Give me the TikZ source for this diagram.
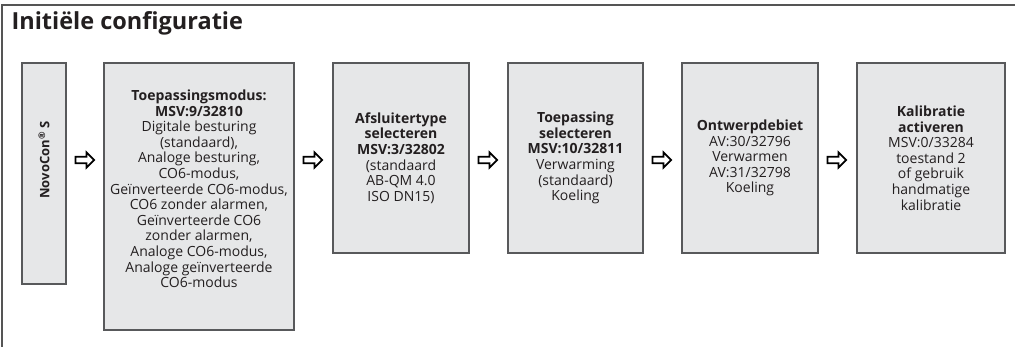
\documentclass[tikz,border=0pt]{standalone}
\usepackage{fontspec}
\setmainfont{Open Sans}
\usetikzlibrary{calc}
\definecolor{boxfill}{HTML}{E6E7E8}
\definecolor{boxline}{HTML}{58595B}
\definecolor{txt}{HTML}{231F20}
\definecolor{framecol}{HTML}{555555}
\newcommand\flowarrow[2]{\draw[flowarr] ($(#1.east|-row)+(9,0)$) -- ++(0,-3.2) -- ++(11,0) -- ++(0,-4.3) -- ++(7.5,7.5) -- ++(-7.5,7.5) -- ++(0,-4.3) -- ++(-11,0) -- cycle;}
\begin{document}
\begin{tikzpicture}[x=1pt,y=-1pt,
  box/.style={draw=boxline, fill=boxfill, line width=1.1pt, inner sep=0pt, align=center,
    font=\fontsize{14}{15.6}\selectfont, text=txt},
  flowarr/.style={draw=black, fill=white, line width=1.8pt, line join=miter},
  framel/.style={draw=framecol, line width=1.4pt}]
\useasboundingbox (0,0) rectangle (1015,347);
\draw[framel] (2,347) -- (2,5) -- (1015,5);
\node[anchor=base west, font=\bfseries\fontsize{23.5}{27}\selectfont, text=txt] (title) at (8,29.5) {Initiële configuratie};
\coordinate (row) at (0,160);
\node[box, minimum width=44pt, minimum height=221pt] (b0) at (44,173.5) {};
\node[rotate=90, font=\bfseries\fontsize{13}{15}\selectfont, text=txt, inner sep=0pt] (b0t) at (b0.center|-row) {NovoCon\textsuperscript{®} S};
\node[box, minimum width=190pt, minimum height=267pt] (b1) at (199,196.5) {\textbf{Toepassingsmodus:}\\\textbf{MSV:9/32810}\\Digitale besturing\\(standaard),\\Analoge besturing,\\CO6-modus,\\Geïnverteerde CO6-modus,\\CO6 zonder alarmen,\\Geïnverteerde CO6\\zonder alarmen,\\Analoge CO6-modus,\\Analoge geïnverteerde\\CO6-modus\\\mbox{}};
\node[box, minimum width=136pt, minimum height=190pt] (b2) at (401,158) {\textbf{Afsluitertype}\\\textbf{selecteren}\\\textbf{MSV:3/32802}\\(standaard\\AB-QM 4.0\\ISO DN15)};
\node[box, minimum width=135pt, minimum height=190pt] (b3) at (575.5,158) {\textbf{Toepassing}\\\textbf{selecteren}\\\textbf{MSV:10/32811}\\Verwarming\\(standaard)\\Koeling};
\node[box, minimum width=136pt, minimum height=190pt] (b4) at (750,158) {\textbf{Ontwerpdebiet}\\AV:30/32796\\Verwarmen\\AV:31/32798\\Koeling};
\node[box, minimum width=148pt, minimum height=190pt] (b5) at (931,158) {\textbf{Kalibratie}\\\textbf{activeren}\\MSV:0/33284\\toestand 2\\of gebruik\\handmatige\\kalibratie};
\flowarrow{b0}{b1}
\flowarrow{b1}{b2}
\flowarrow{b2}{b3}
\flowarrow{b3}{b4}
\flowarrow{b4}{b5}
\end{tikzpicture}
\end{document}
